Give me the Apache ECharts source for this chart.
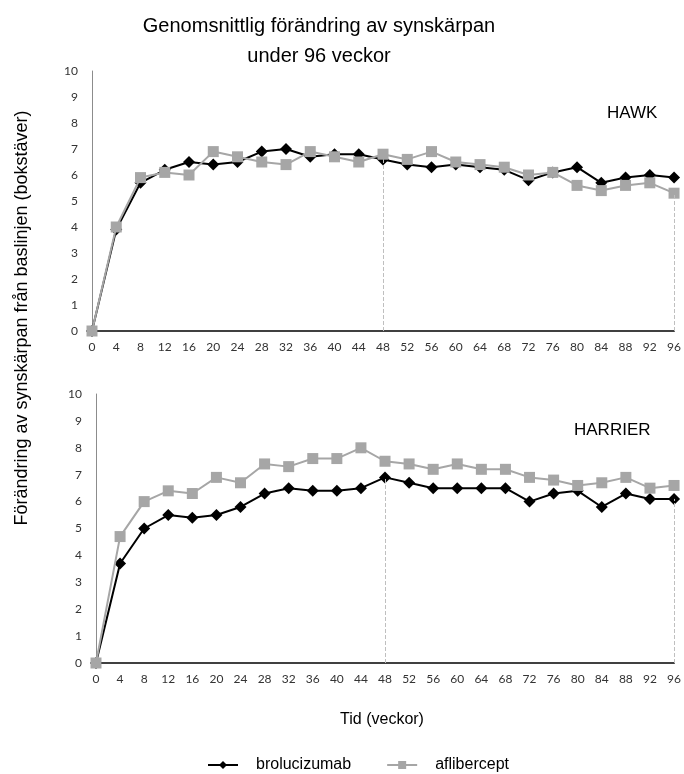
<!DOCTYPE html>
<html>
<head>
<meta charset="utf-8">
<script src="https://cdn.jsdelivr.net/npm/echarts@6/dist/echarts.min.js"></script>
<style>html,body{margin:0;padding:0;background:#fff}#c{width:684px;height:774px}</style>
</head>
<body>
<div id="c"></div>
<script>
const weeks = [0,4,8,12,16,20,24,28,32,36,40,44,48,52,56,60,64,68,72,76,80,84,88,92,96];
const hawkBrolucizumab = [0,3.9,5.7,6.2,6.5,6.4,6.5,6.9,7.0,6.7,6.8,6.8,6.6,6.4,6.3,6.4,6.3,6.2,5.8,6.1,6.3,5.7,5.9,6.0,5.9];
const hawkAflibercept  = [0,4.0,5.9,6.1,6.0,6.9,6.7,6.5,6.4,6.9,6.7,6.5,6.8,6.6,6.9,6.5,6.4,6.3,6.0,6.1,5.6,5.4,5.6,5.7,5.3];
const harrierBrolucizumab = [0,3.7,5.0,5.5,5.4,5.5,5.8,6.3,6.5,6.4,6.4,6.5,6.9,6.7,6.5,6.5,6.5,6.5,6.0,6.3,6.4,5.8,6.3,6.1,6.1];
const harrierAflibercept  = [0,4.7,6.0,6.4,6.3,6.9,6.7,7.4,7.3,7.6,7.6,8.0,7.5,7.4,7.2,7.4,7.2,7.2,6.9,6.8,6.6,6.7,6.9,6.5,6.6];
const yTicks = [0,1,2,3,4,5,6,7,8,9,10];
const dashedWeeks = [48, 96];

const BLACK = '#000000', GREY = '#a6a6a6';
const labelFont = {fontFamily: 'Lato', fontSize: 12, color: '#333'};

function dashLines(a, b) {
  return dashedWeeks.map(w => {
    const i = weeks.indexOf(w);
    return [{coord: [String(w), 0]}, {coord: [String(w), Math.min(a[i], b[i])]}];
  });
}

function xAxis(gi) {
  return {
    type: 'category', gridIndex: gi, data: weeks.map(String), boundaryGap: false,
    axisLine: {lineStyle: {color: '#404040', width: 2}},
    axisTick: {show: false},
    axisLabel: Object.assign({interval: 0, margin: 10}, labelFont),
    splitLine: {show: false}
  };
}
function yAxis(gi) {
  return {
    type: 'value', gridIndex: gi, min: 0, max: 10, interval: 1,
    axisLine: {show: true, lineStyle: {color: '#8c8c8c', width: 1}},
    axisTick: {show: false},
    axisLabel: Object.assign({margin: 14, formatter: v => yTicks.includes(v) ? String(v) : ''}, labelFont),
    splitLine: {show: false}
  };
}
function series(name, gi, data, color, symbol, size, other) {
  const s = {
    name, type: 'line', xAxisIndex: gi, yAxisIndex: gi, data,
    symbol, symbolSize: size, showAllSymbol: true,
    lineStyle: {color, width: 2}, itemStyle: {color, borderWidth: 0},
    emphasis: {disabled: true}, animation: false, z: name === 'aflibercept' ? 3 : 2
  };
  if (other) {
    s.markLine = {
      silent: true, symbol: 'none', label: {show: false},
      lineStyle: {color: '#bfbfbf', type: 'dashed', width: 1},
      data: dashLines(data, other)
    };
  }
  return s;
}

const chart = echarts.init(document.getElementById('c'));
chart.setOption({
  backgroundColor: '#fff',
  animation: false,
  title: {
    text: 'Genomsnittlig förändring av synskärpan\nunder 96 veckor',
    left: 314, top: 6, textAlign: 'center',
    textStyle: {fontFamily: 'Liberation Sans', fontSize: 20, fontWeight: 'normal', color: '#000', lineHeight: 30}
  },
  legend: {
    bottom: -4, left: 202,
    data: ['brolucizumab', 'aflibercept'],
    itemWidth: 30, itemHeight: 10, itemGap: 35,
    textStyle: {fontFamily: 'Liberation Sans', fontSize: 16, color: '#000', padding: [0, 0, 0, 13]},
    selectedMode: false
  },
  grid: [
    {left: 92, right: 7, top: 71, height: 260},
    {left: 96, right: 7, top: 394, height: 269}
  ],
  xAxis: [xAxis(0), xAxis(1)],
  yAxis: [yAxis(0), yAxis(1)],
  series: [
    series('brolucizumab', 0, hawkBrolucizumab, BLACK, 'diamond', 12, hawkAflibercept),
    series('aflibercept', 0, hawkAflibercept, GREY, 'rect', 11),
    series('brolucizumab', 1, harrierBrolucizumab, BLACK, 'diamond', 12, harrierAflibercept),
    series('aflibercept', 1, harrierAflibercept, GREY, 'rect', 11)
  ],
  graphic: [
    {type: 'text', left: 607, top: 105, style: {text: 'HAWK', fontFamily: 'Liberation Sans', fontSize: 17, fill: '#000'}},
    {type: 'text', left: 574, top: 422, style: {text: 'HARRIER', fontFamily: 'Liberation Sans', fontSize: 17, fill: '#000'}},
    {type: 'text', x: 382, y: 720, style: {text: 'Tid (veckor)', fontFamily: 'Liberation Sans', fontSize: 16, fill: '#000', align: 'center', verticalAlign: 'middle'}},
    {type: 'text', x: 22, y: 318, rotation: Math.PI / 2,
     style: {text: 'Förändring av synskärpan från baslinjen (bokstäver)', fontFamily: 'Liberation Sans', fontSize: 18, fill: '#000', align: 'center', verticalAlign: 'middle'}}
  ]
});
</script>
</body>
</html>
